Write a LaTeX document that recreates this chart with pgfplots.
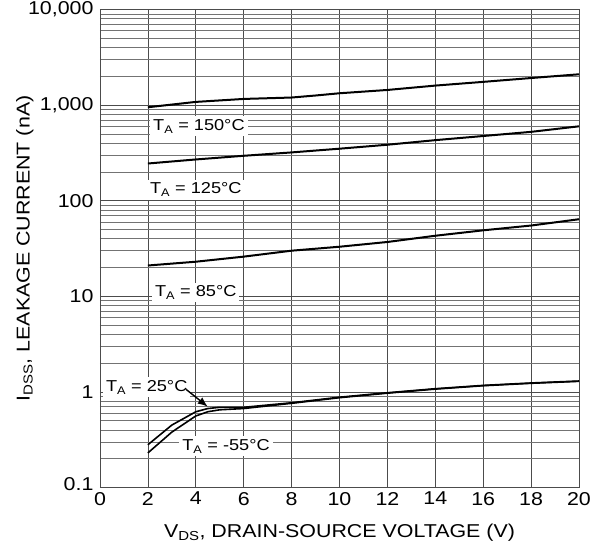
\documentclass[border=0pt]{standalone}
\usepackage{pgfplots}
\pgfplotsset{compat=1.18}
\usepackage{fontspec}
\setmainfont[FakeStretch=1.15]{Liberation Sans}
\usetikzlibrary{arrows.meta}

\begin{document}
\begin{tikzpicture}
    \begin{axis}[
            scale only axis,
            width=479pt,
            height=478pt,
            ymode=log,
            xmin=0, xmax=20,
            ymin=0.1, ymax=10000,
            xtick={0,2,...,20},
            ytick={0.1,1,10,100,1000,10000},
            yticklabels={\raisebox{7pt}{0.1},1,10,100,{1,000},\raisebox{-3pt}{10,000}},
            minor ytick={0.2,0.3,0.4,0.5,0.6,0.7,0.8,0.9,2,3,4,5,6,7,8,9,20,30,40,50,60,70,80,90,200,300,400,500,600,700,800,900,2000,3000,4000,5000,6000,7000,8000,9000},
            grid=both,
            major grid style={black!70, line width=0.7pt},
            minor grid style={black!55, line width=0.6pt},
            axis line style={black!70, line width=0.7pt},
            major tick length=0pt,
            minor tick length=0pt,
            font=\fontsize{18.6}{22}\selectfont,
            yticklabel style={xshift=-3pt},
            xticklabel style={yshift=-1pt},
            /pgf/number format/assume math mode=true,
            xlabel={V\textsubscript{DS}, DRAIN-SOURCE VOLTAGE (V)},
            ylabel={I\textsubscript{DSS}, LEAKAGE CURRENT (nA)},
            xlabel style={at={(axis description cs:0.5,-0.105)}, anchor=base},
            ylabel style={at={(axis description cs:-0.157,0.5)}, anchor=center},
        ]

        % T_A = 150 C
        \addplot[black, line width=2pt] coordinates {
                (2,950) (4,1080) (6,1160) (8,1200) (9,1260) (10,1330)
                (12,1440) (14,1600) (16,1750) (18,1920) (20,2100)
            };

        % T_A = 125 C
        \addplot[black, line width=2pt] coordinates {
                (2,245) (4,270) (6,295) (8,320) (10,350) (12,385)
                (14,430) (16,475) (18,525) (20,600)
            };

        % T_A = 85 C
        \addplot[black, line width=2pt] coordinates {
                (2,21) (4,23) (6,26) (8,30) (10,33) (12,37)
                (14,43) (16,49) (18,55) (20,64)
            };

        % T_A = 25 C
        \addplot[black, line width=1.6pt] coordinates {
                (2,0.28) (3,0.45) (4,0.62) (4.5,0.67) (5,0.69) (6,0.69)
                (8,0.77) (10,0.88) (12,0.98) (14,1.08) (16,1.17) (18,1.24) (20,1.30)
            };

        % T_A = -55 C
        \addplot[black, line width=1.6pt] coordinates {
                (2,0.23) (3,0.38) (4,0.56) (4.5,0.62) (5,0.65) (6,0.67)
                (8,0.76) (10,0.87) (12,0.97) (14,1.07) (16,1.16) (18,1.23) (20,1.29)
            };

        \tikzset{lbl/.style={fill=white, inner sep=3pt, font=\fontsize{15.8}{18}\selectfont}}
        \node[lbl] at (axis cs:4.13,600) {T\textsubscript{A} = 150°C};
        \node[lbl] at (axis cs:4.0,130) {T\textsubscript{A} = 125°C};
        \node[lbl] at (axis cs:4.0,11) {T\textsubscript{A} = 85°C};
        \node[lbl] at (axis cs:1.95,1.12) {T\textsubscript{A} = 25°C};
        \node[lbl] at (axis cs:5.26,0.27) {T\textsubscript{A} = -55°C};
        \draw[-{Latex[length=10pt,width=8pt]}, line width=1.4pt]
            (axis cs:3.6,1.06) -- (axis cs:4.5,0.70);

    \end{axis}
    % page box as in the reference
    \pgfresetboundingbox
    \path (current axis.south west) ++(-100pt,-57pt)
          (current axis.north east) ++(13pt,9.5pt);
\end{tikzpicture}
\end{document}
